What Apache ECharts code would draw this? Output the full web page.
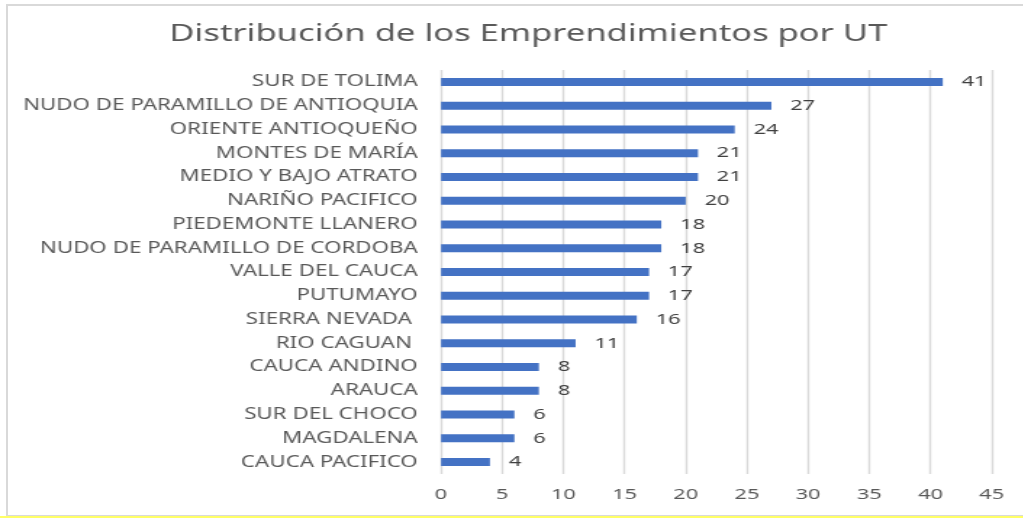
<!DOCTYPE html>
<html>
<head>
<meta charset="utf-8">
<script src="https://cdn.jsdelivr.net/npm/echarts@6/dist/echarts.min.js"></script>
<style>
  html, body { margin: 0; padding: 0; background: #fff; overflow: hidden; }
  #frame { position: absolute; left: 6px; top: 4px; width: 1030px; height: 509px; border: 2px solid #d9d9d9; }
  #strip { position: absolute; left: 0; top: 516px; width: 1023px; height: 2px; background: #ffff66; }
  /* the reference picture is stretched sideways, so the chart is drawn narrow and widened */
  #chart { position: absolute; left: 0; top: 0; width: 705.5px; height: 518px; transform: scaleX(1.45); transform-origin: 0 0; }
</style>
</head>
<body>
<div id="frame"></div>
<div id="strip"></div>
<div id="chart"></div>
<script>
const SX = 1.45;

// territorios (de arriba hacia abajo como en la figura)
const categories = [
  'SUR DE TOLIMA',
  'NUDO DE PARAMILLO DE ANTIOQUIA',
  'ORIENTE ANTIOQUEÑO',
  'MONTES DE MARÍA',
  'MEDIO Y BAJO ATRATO',
  'NARIÑO PACIFICO',
  'PIEDEMONTE LLANERO',
  'NUDO DE PARAMILLO DE CORDOBA',
  'VALLE DEL CAUCA',
  'PUTUMAYO',
  'SIERRA NEVADA ',
  'RIO CAGUAN ',
  'CAUCA ANDINO',
  'ARAUCA',
  'SUR DEL CHOCO',
  'MAGDALENA',
  'CAUCA PACIFICO'
];
const values = [41, 27, 24, 21, 21, 20, 18, 18, 17, 17, 16, 11, 8, 8, 6, 6, 4];
const xTicks = [0, 5, 10, 15, 20, 25, 30, 35, 40, 45];

const chart = echarts.init(document.getElementById('chart'));
chart.setOption({
  animation: false,
  title: {
    text: 'Distribución de los Emprendimientos por UT',
    left: 162 / SX,
    top: 17,
    textStyle: {
      fontFamily: 'Noto Sans',
      fontSize: 23.8,
      fontWeight: 'normal',
      color: '#595959'
    }
  },
  grid: { left: 441 / SX, right: 32 / SX, top: 70, bottom: 44, containLabel: false },
  xAxis: {
    type: 'value',
    min: xTicks[0],
    max: xTicks[xTicks.length - 1],
    interval: 5,
    axisLine: { show: false },
    axisTick: { show: false },
    splitLine: { lineStyle: { color: '#d9d9d9', width: 1.4 } },
    axisLabel: {
      margin: 13,
      fontFamily: 'Noto Sans',
      fontSize: 15,
      color: '#595959'
    }
  },
  yAxis: {
    type: 'category',
    inverse: true,
    data: categories,
    axisLine: { show: false },
    axisTick: { show: false },
    axisLabel: {
      margin: 16,
      fontFamily: 'Noto Sans',
      fontSize: 15.4,
      color: '#595959'
    }
  },
  series: [{
    type: 'bar',
    data: values,
    barWidth: 8,
    itemStyle: { color: '#4472c4' },
    label: {
      show: true,
      position: 'right',
      distance: 13,
      fontFamily: 'Noto Sans',
      fontSize: 15,
      color: '#404040'
    }
  }]
});
</script>
</body>
</html>
